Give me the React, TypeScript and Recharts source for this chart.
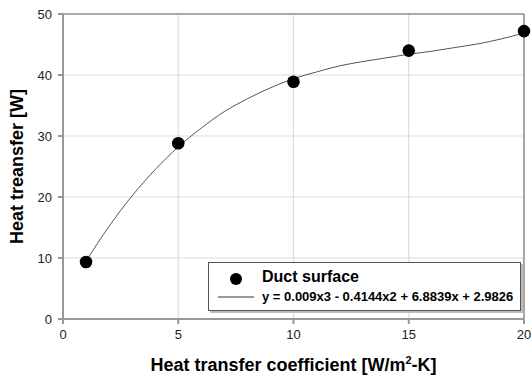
import {
  CartesianGrid,
  ComposedChart,
  Label,
  Line,
  ReferenceLine,
  Scatter,
  XAxis,
  YAxis,
} from 'recharts';

// measured points (Duct surface)
const coefX = [1, 5, 10, 15, 20];
const heatW = [9.35, 28.8, 38.9, 44.0, 47.2];

// fitted curve
const fitX = [1, 2, 3, 4, 5, 6, 7, 8, 9, 10, 11, 12, 13, 14, 15, 16, 17, 18, 19, 20];
const fitY = [9.5, 15.2, 20.2, 24.5, 28.2, 31.3, 34.0, 36.1, 37.9, 39.4, 40.5, 41.5, 42.2, 42.8, 43.4, 43.9, 44.5, 45.1, 45.9, 46.9];

const xTicks = [0, 5, 10, 15, 20];
const yTicks = [0, 10, 20, 30, 40, 50];

const seriesName = 'Duct surface';
const fitLabel = 'y = 0.009x3 - 0.4144x2 + 6.8839x + 2.9826';

const points = coefX.map((x, i) => ({ x, y: heatW[i] }));
const fit = fitX.map((x, i) => ({ x, y: fitY[i] }));

const font = '"Liberation Sans", Arial, sans-serif';
const tickStyle = { fill: '#222', fontSize: 13, fontFamily: font };

export default function App() {
  return (
    <div style={{ position: 'absolute', left: 0, top: 0, width: 532, height: 378, background: '#fff' }}>
      <ComposedChart width={532} height={378} margin={{ top: 14, right: 8, bottom: 0, left: 0 }}>
        <CartesianGrid stroke="#dcdcdc" strokeWidth={1.2} />
        <XAxis
          type="number"
          dataKey="x"
          domain={[0, 20]}
          ticks={xTicks}
          height={59}
          stroke="#999"
          strokeWidth={2}
          tickSize={5}
          tickMargin={6}
          tick={tickStyle}
        >
          <Label
            content={({ viewBox }: any) => (
              <text
                x={viewBox.x + viewBox.width / 2}
                y={371}
                textAnchor="middle"
                fontFamily={font}
                fontWeight="bold"
                fontSize={18}
                fill="#000"
              >
                Heat transfer coefficient [W/m
                <tspan dy={-7} fontSize={11}>2</tspan>
                <tspan dy={7}>-K]</tspan>
              </text>
            )}
          />
        </XAxis>
        <YAxis
          type="number"
          domain={[0, 50]}
          ticks={yTicks}
          width={63}
          stroke="#999"
          strokeWidth={2}
          tickSize={5}
          tickMargin={6}
          tick={tickStyle}
        >
          <Label
            content={({ viewBox }: any) => (
              <text
                x={23}
                y={viewBox.y + viewBox.height / 2}
                transform={`rotate(-90 23 ${viewBox.y + viewBox.height / 2})`}
                textAnchor="middle"
                fontFamily={font}
                fontWeight="bold"
                fontSize={18}
                fill="#000"
              >
                Heat treansfer [W]
              </text>
            )}
          />
        </YAxis>
        <ReferenceLine y={50} stroke="#666" strokeWidth={1} />
        <ReferenceLine x={20} stroke="#666" strokeWidth={1} />
        <Line
          data={fit}
          dataKey="y"
          type="monotone"
          stroke="#555"
          strokeWidth={1}
          dot={false}
          activeDot={false}
          isAnimationActive={false}
        />
        <Scatter
          data={points}
          dataKey="y"
          fill="#000"
          isAnimationActive={false}
          shape={(p: any) => <circle cx={p.cx} cy={p.cy} r={6.3} fill="#000" />}
        />
      </ComposedChart>
      <div
        style={{
          position: 'absolute',
          left: 208,
          top: 262,
          width: 311,
          height: 47,
          border: '1px solid #555',
          boxShadow: '2px 2px 0 #bbb',
          background: '#fff',
          fontFamily: font,
          fontWeight: 'bold',
          color: '#000',
        }}
      >
        <svg width={50} height={47} style={{ position: 'absolute', left: 0, top: 0 }}>
          <circle cx={27} cy={16} r={6} fill="#000" />
          <line x1={9} x2={45} y1={34} y2={34} stroke="#333" strokeWidth={1} />
        </svg>
        <div style={{ position: 'absolute', left: 53, top: 5, fontSize: 16, lineHeight: '18px' }}>{seriesName}</div>
        <div style={{ position: 'absolute', left: 53, top: 26, fontSize: 13, lineHeight: '15px' }}>{fitLabel}</div>
      </div>
    </div>
  );
}
